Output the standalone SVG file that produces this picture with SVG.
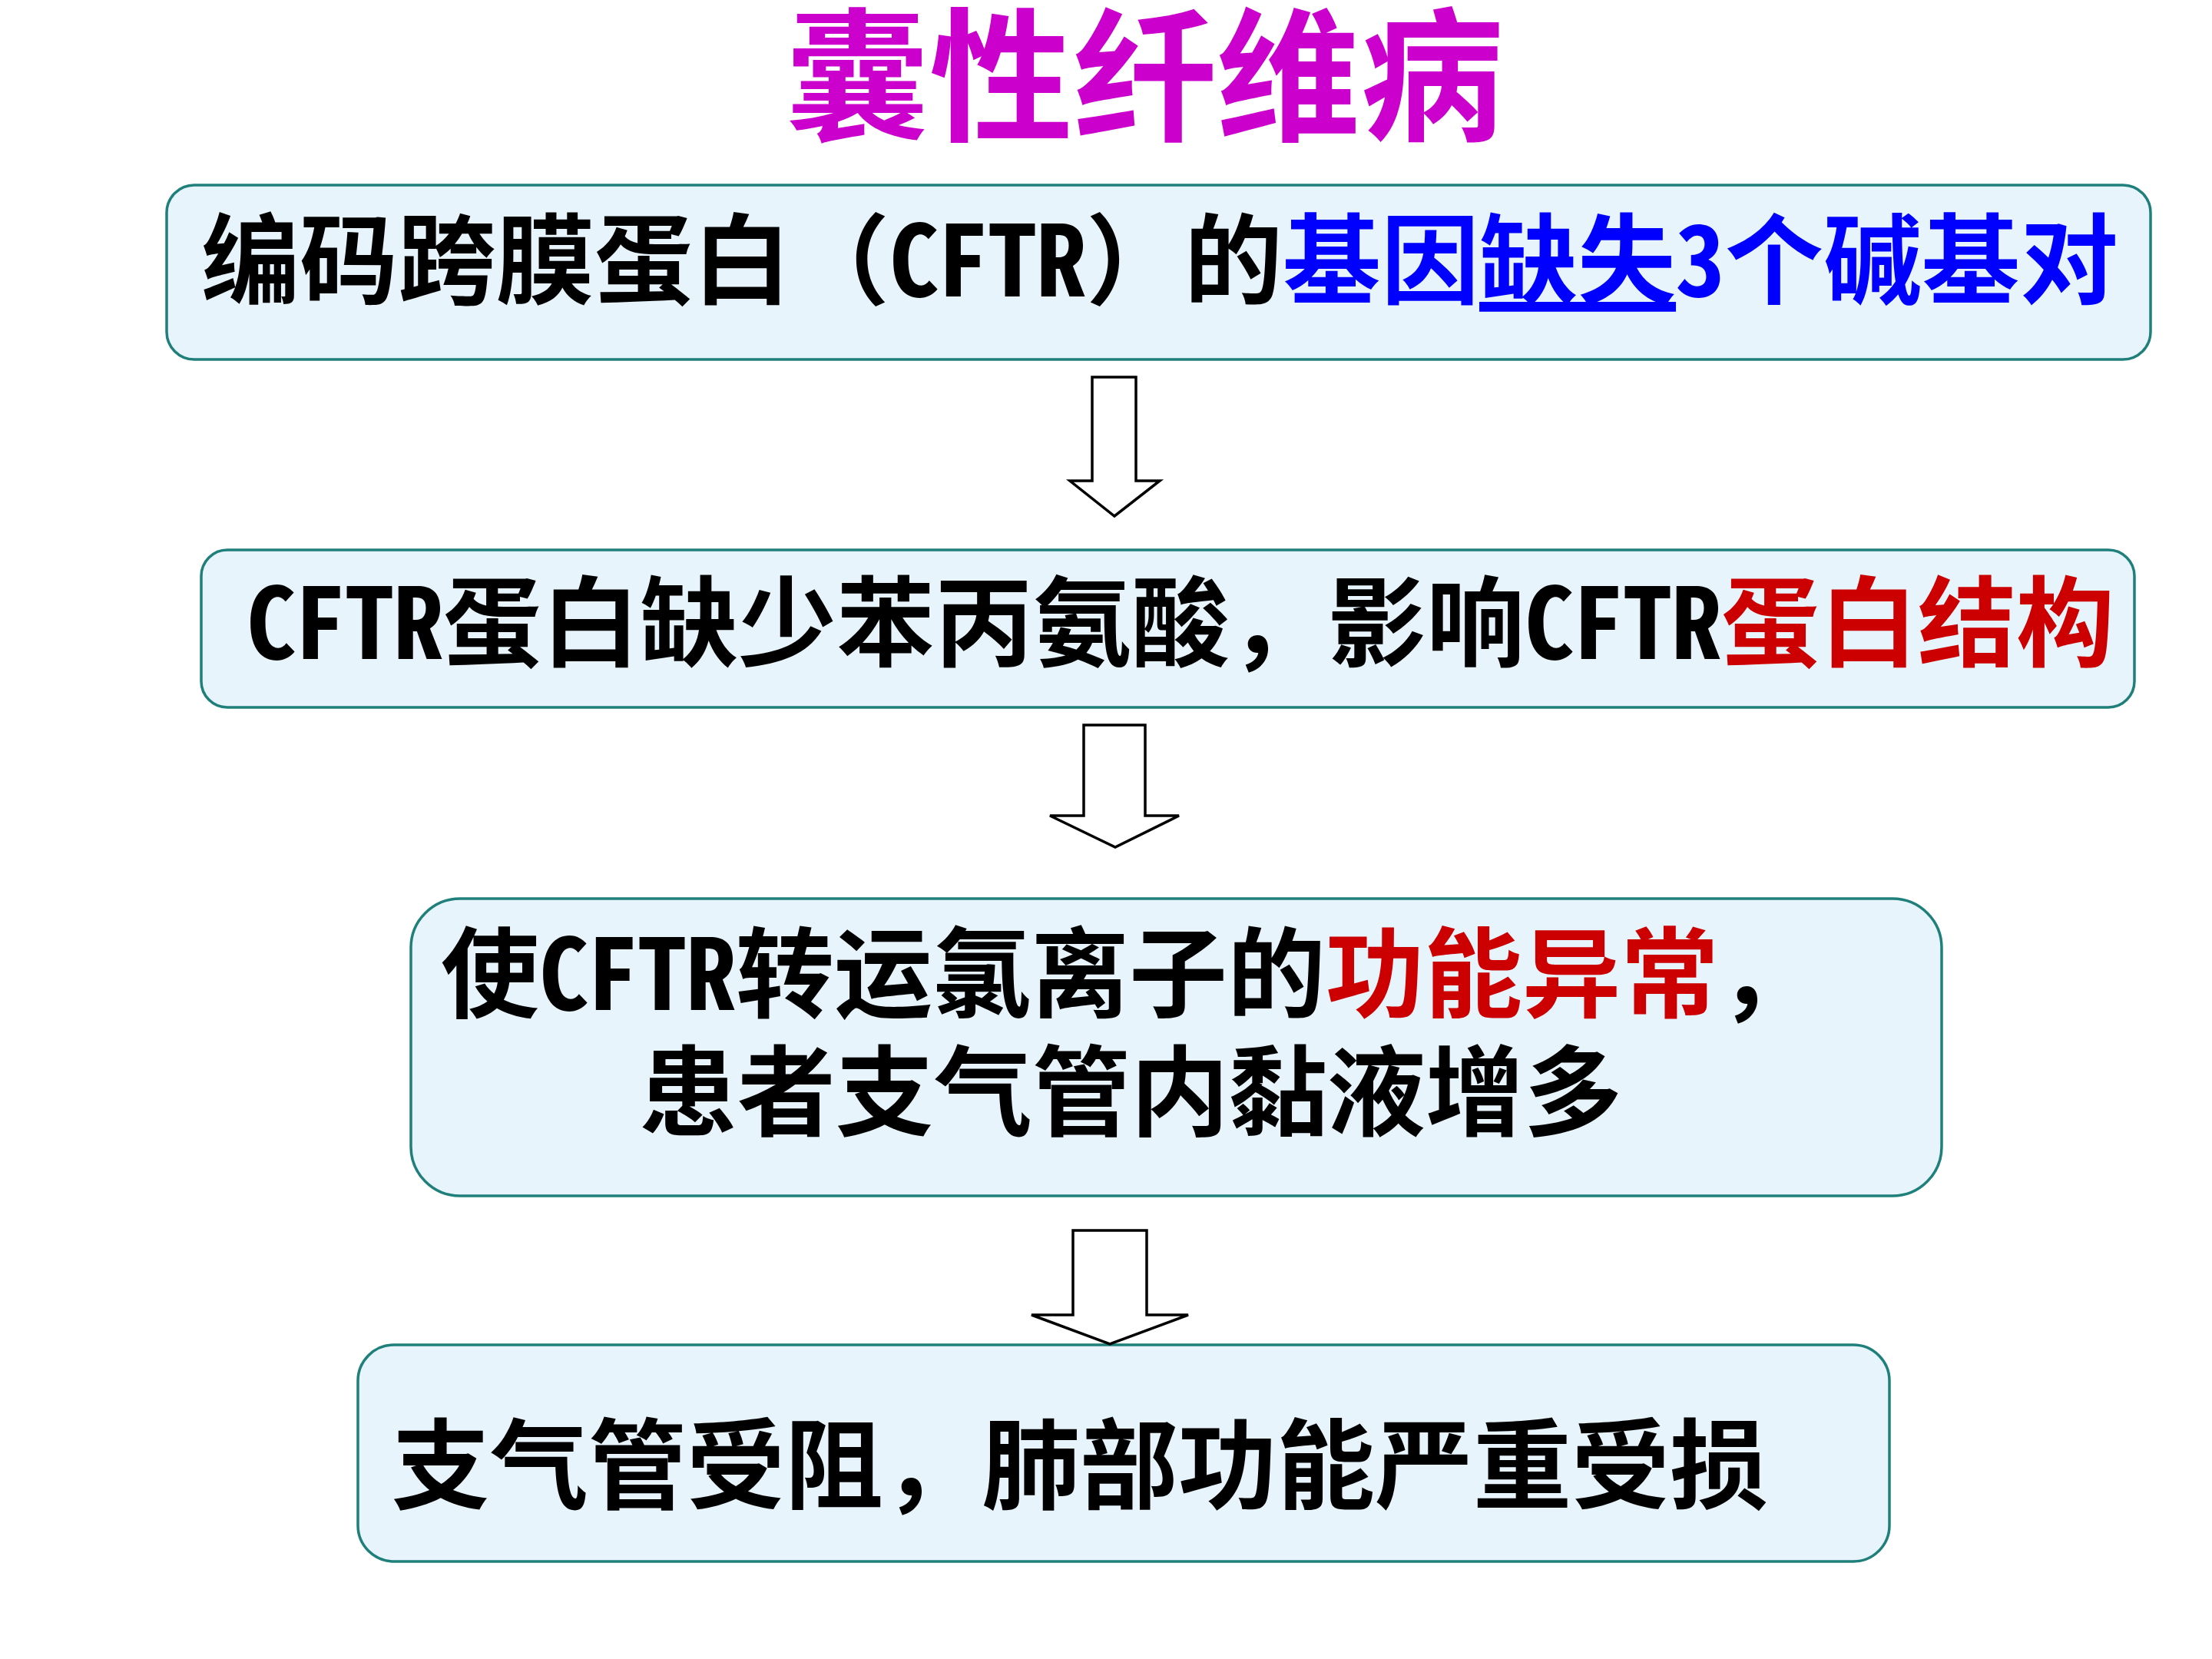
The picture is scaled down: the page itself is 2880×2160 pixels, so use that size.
<svg xmlns="http://www.w3.org/2000/svg" width="2880" height="2160" viewBox="0 0 2880 2160">
<style>
.bg{fill:#ffffff}
.box{fill:#E8F4FC;stroke:#1F7F7A;stroke-width:3.5}
.t{font-family:'Noto Sans Mono CJK SC','Noto Sans CJK SC',sans-serif;font-weight:700;font-size:128px;fill:#000000}
.title{font-family:'Noto Sans CJK SC',sans-serif;font-weight:700;font-size:187px;fill:#CC00CC}
.blue{fill:#0000FF}
.red{fill:#CC0000}
.arrow{fill:#ffffff;stroke:#000000;stroke-width:3.5;stroke-linejoin:miter}
</style>
<rect class="bg" x="0" y="0" width="2880" height="2160"/>
<g id="title">
<text class="title" x="1023" y="169">囊性纤维病</text>
</g>
<g id="node1">
<rect class="box" x="217" y="241" width="2583" height="227" rx="36" ry="36"/>
<text class="t" x="262" y="386">编码跨膜蛋白（CFTR）的<tspan class="blue">基因<tspan text-decoration="underline">缺失</tspan>3个碱基对</tspan></text>
</g>
<g id="node2">
<rect class="box" x="262" y="716" width="2517" height="205" rx="34" ry="34"/>
<text class="t" x="321" y="858">CFTR蛋白缺少苯丙氨酸，影响CFTR<tspan class="red">蛋白结构</tspan></text>
</g>
<g id="node3">
<rect class="box" x="535" y="1170" width="1993" height="387" rx="64" ry="64"/>
<text class="t" x="574" y="1315">使CFTR转运氯离子的<tspan class="red">功能异常</tspan>，<tspan x="832" y="1469">患者支气管内黏液增多</tspan></text>
</g>
<g id="node4">
<rect class="box" x="466" y="1751" width="1994" height="282" rx="47" ry="47"/>
<text class="t" x="510" y="1955">支气管受阻，肺部功能严重受损</text>
</g>
<g id="connectors">
<polygon class="arrow" points="1422,491 1479,491 1479,626 1510,626 1451,672 1393,626 1422,626"/>
<polygon class="arrow" points="1411,944 1491,944 1491,1062 1535,1062 1452,1103 1367,1062 1411,1062"/>
<polygon class="arrow" points="1397,1602 1493,1602 1493,1712 1547,1712 1445,1750 1343,1712 1397,1712"/>
</g>
</svg>
